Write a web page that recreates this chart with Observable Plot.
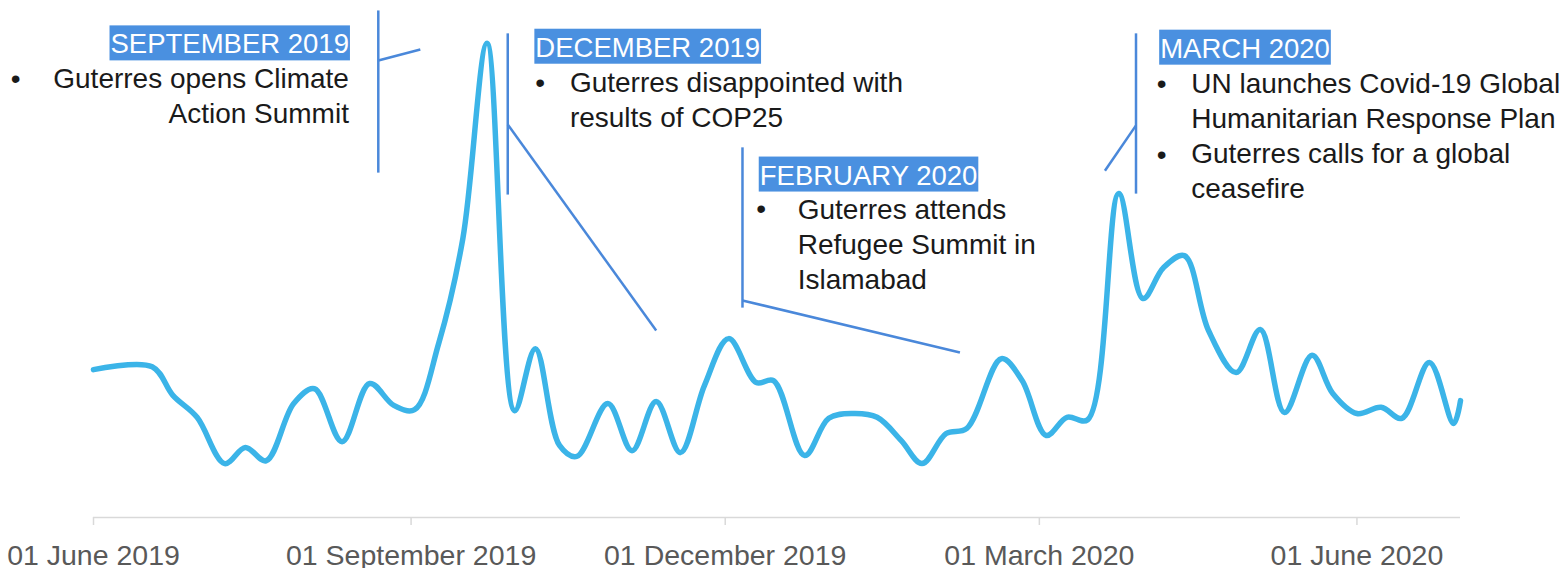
<!DOCTYPE html>
<html>
<head>
<meta charset="utf-8">
<script src="https://cdn.jsdelivr.net/npm/d3@7"></script>
<script src="https://cdn.jsdelivr.net/npm/@observablehq/plot@0.6"></script>
<style>
  html, body { margin: 0; padding: 0; background: #ffffff; }
  svg { display: block; }
</style>
</head>
<body>
<script>
// ---- Series data (weekly-ish mentions index) ----
const dates = [
  "2019-06-01","2019-06-18","2019-06-24","2019-07-01","2019-07-09","2019-07-15","2019-07-21",
  "2019-07-29","2019-08-04","2019-08-12","2019-08-20","2019-08-27","2019-09-02","2019-09-09",
  "2019-09-16","2019-09-23","2019-10-01","2019-10-07","2019-10-14","2019-10-19","2019-10-28",
  "2019-11-04","2019-11-11","2019-11-18","2019-11-25","2019-12-02","2019-12-10","2019-12-15",
  "2019-12-24","2019-12-31","2020-01-07","2020-01-14","2020-01-21","2020-01-27","2020-02-03",
  "2020-02-09","2020-02-19","2020-02-25","2020-03-03","2020-03-09","2020-03-15","2020-03-24",
  "2020-03-31","2020-04-06","2020-04-12","2020-04-19","2020-04-27","2020-05-04","2020-05-11",
  "2020-05-19","2020-05-25","2020-06-01","2020-06-08","2020-06-14","2020-06-22","2020-06-29",
  "2020-07-01"
];
const values = [
  31.0, 31.6, 25.6, 21.0, 11.3, 14.7, 11.9,
  23.9, 27.0, 15.9, 28.1, 23.5, 22.6, 36.5,
  58.5, 99.4, 22.4, 35.4, 15.1, 12.8, 23.9,
  14.0, 24.3, 13.6, 27.7, 37.5, 28.3, 28.7,
  13.0, 20.8, 21.8, 21.0, 16.1, 11.3, 17.6,
  18.7, 33.3, 28.7, 17.2, 21.0, 20.5, 67.9,
  45.9, 52.4, 54.9, 39.2, 30.4, 39.4, 22.0,
  34.0, 26.0, 21.8, 23.1, 20.8, 32.5, 19.7,
  24.5
];

// ---- Axis ticks ----
const tickDates = ["2019-06-01","2019-09-01","2019-12-01","2020-03-01","2020-06-01"];
const xDomain = ["2019-06-01","2020-07-01"];

// ---- Annotations (anchored in data coordinates: date, value) ----
const headerText  = ["SEPTEMBER 2019","DECEMBER 2019","FEBRUARY 2020","MARCH 2020"];
const headerDate  = ["2019-08-14","2019-10-07","2019-12-11","2020-04-05"];
const headerValue = [97.3, 96.6, 69.8, 96.4];
const headerAlign = ["end","start","start","start"];

const bodyText  = [
  "Guterres opens Climate\nAction Summit",
  "Guterres disappointed with\nresults of COP25",
  "Guterres attends\nRefugee Summit in\nIslamabad",
  "UN launches Covid-19 Global\nHumanitarian Response Plan",
  "Guterres calls for a global\nceasefire"
];
const bodyDate  = ["2019-08-14","2019-10-17","2019-12-22","2020-04-14","2020-04-14"];
const bodyValue = [82.6, 81.8, 48.0, 81.6, 66.9];
const bodyAlign = ["end","start","start","start","start"];

const bulletDate  = ["2019-05-08","2019-10-07","2019-12-10","2020-04-04","2020-04-04"];
const bulletValue = [90.1, 89.1, 62.7, 88.9, 74.2];

const linkX1 = ["2019-08-22T12:00Z","2019-08-22T12:00Z","2019-09-29","2019-09-29","2019-12-06","2019-12-06","2020-03-29","2020-03-29"];
const linkY1 = [106.3, 95.8, 101.5, 82.4, 77.6, 45.5, 101.5, 82.2];
const linkX2 = ["2019-08-22T12:00Z","2019-09-03T16:00Z","2019-09-29","2019-11-11","2019-12-06","2020-02-07","2020-03-29","2020-03-20"];
const linkY2 = [72.3, 98.1, 67.7, 39.2, 44.0, 34.6, 67.9, 72.7];

// ---- Build tables ----
const P = (s) => new Date(s.length === 10 ? s + "T00:00:00Z" : s);
const series = dates.map((d, i) => ({date: P(d), value: values[i]}));
const headers = headerText.map((t, i) => ({text: t, date: P(headerDate[i]), value: headerValue[i], align: headerAlign[i]}));
const bodies = bodyText.map((t, i) => ({text: t, date: P(bodyDate[i]), value: bodyValue[i], align: bodyAlign[i]}));
const bullets = bulletDate.map((d, i) => ({date: P(d), value: bulletValue[i]}));
const links = linkX1.map((d, i) => ({x1: P(d), y1: linkY1[i], x2: P(linkX2[i]), y2: linkY2[i]}));

const FONT = "'Liberation Sans', Arial, Helvetica, sans-serif";
const BLUE_LINE = "#3bb4e8";
const BLUE_DARK = "#4a88da";
const BOX = "#4a90e0";

const textMarks = (data, opts) => ["start","end"].map(a =>
  Plot.text(data.filter(d => d.align === a), {x: "date", y: "value", text: "text", textAnchor: a, ...opts})
);

const chart = Plot.plot({
  width: 1568,
  height: 568,
  marginLeft: 93,
  marginRight: 108,
  marginTop: 40,
  marginBottom: 51,
  style: {fontFamily: FONT, background: "#ffffff", overflow: "visible"},
  x: {type: "utc", domain: xDomain.map(P)},
  y: {domain: [0, 100], axis: null},
  marks: [
    Plot.ruleY([0], {stroke: "#d9d9d9", strokeWidth: 1.5}),
    Plot.axisX({
      ticks: tickDates.map(P),
      tickFormat: d3.utcFormat("%d %B %Y"),
      tickSize: 8,
      tickPadding: 19,
      stroke: "#d9d9d9",
      strokeWidth: 1.5,
      fill: "#595959",
      fontSize: 28.5,
      label: null
    }),
    Plot.link(links, {x1: "x1", y1: "y1", x2: "x2", y2: "y2", stroke: BLUE_DARK, strokeWidth: 2.5, curve: "linear"}),
    Plot.line(series, {x: "date", y: "value", curve: "catmull-rom", stroke: BLUE_LINE, strokeWidth: 5.5}),
    ...textMarks(headers, {lineAnchor: "bottom", fill: "#ffffff", fontSize: 27.5, ariaDescription: "header"}),
    ...textMarks(bodies, {lineAnchor: "bottom", lineHeight: 1.25, fill: "#1a1a1a", fontSize: 28}),
    Plot.text(bullets, {x: "date", y: "value", text: () => "•", textAnchor: "start", lineAnchor: "bottom", fill: "#1a1a1a", fontSize: 28})
  ]
});

document.body.appendChild(chart);

// Highlight boxes behind header labels
d3.select(chart).selectAll("g[aria-description='header']").each(function () {
  const g = this;
  d3.select(g).selectAll("text").each(function () {
    const bb = this.getBBox();
    const r = document.createElementNS("http://www.w3.org/2000/svg", "rect");
    const tr = this.getAttribute("transform");
    if (tr) r.setAttribute("transform", tr);
    r.setAttribute("x", bb.x - 1);
    r.setAttribute("y", bb.y - 3);
    r.setAttribute("width", bb.width + 2);
    r.setAttribute("height", bb.height + 4);
    r.setAttribute("fill", BOX);
    g.insertBefore(r, this);
  });
});
</script>
</body>
</html>
